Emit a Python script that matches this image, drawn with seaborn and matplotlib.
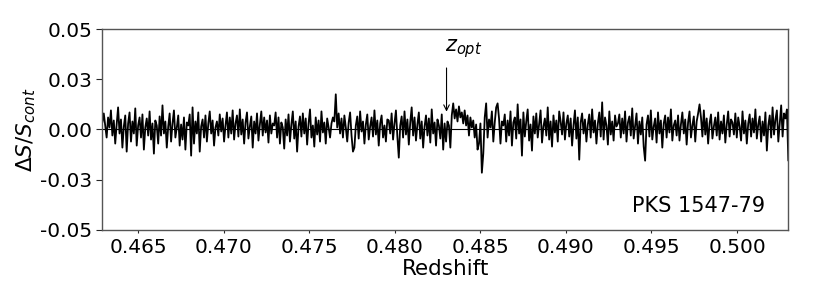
import numpy as np
import matplotlib
matplotlib.use("Agg")
import matplotlib.pyplot as plt
import seaborn as sns

# spectrum, in units of 1e-4 (Delta S / S_cont)
seg1 = [35, 80, 20, -40, 60, 10, 95, -30, 45, -70, 25, 110, -20, 50, -90, 15, 70, -110, 30, 85,
        -60, 40, -20, 105, -80, 20, 60, -40, 75, -100, 10, 55, -30, 90, -50, 30, -120, 45, 20, -70]
seg2 = [65, -30, 120, -20, 40, -90, 15, 80, -60, 30, 95, -40, 10, 70, -80, 25, -50, 60, -100, 35,
        20, 75, -130, 110, -70, 40, -20, 85, -110, 15, 50, -40, 70, -60, 30, 90, -20, 45, -80, 10]
seg3 = [40, -30, 75, -10, 55, -60, 20, 85, -40, 60, -20, 95, -50, 30, 70, -35, 100, -25, 50, -70,
        35, 85, -45, 15, 65, -90, 40, -20, 80, -55, 25, 90, -30, 60, -15, 45, -65, 70, -20, 30]
seg4 = [20, 85, -40, 60, -70, 35, 10, -95, 50, -30, 75, -60, 25, 90, -45, 40, -110, 15, 65, -35,
        80, -20, 55, -75, 30, 100, -40, 20, -85, 60, -25, 45, -60, 90, -15, 35, -70, 55, 10, -40]
seg5 = [30, 60, 40, 175, 10, 80, -20, 55, -40, 70, 10, -60, 35, 85, -30, -110, -90, 20, 65, -45,
        90, -10, 40, -70, 25, 75, -50, 15, 60, -35, 95, -25, 45, -80, 30, 70, -40, 20, -60, 50]
seg6 = [45, -20, 80, -50, 30, 95, -35, -140, 20, 65, -40, 90, -25, 50, -75, 35, 110, -30, 60, -55,
        25, 85, -45, 40, -90, 15, 70, -30, 55, -65, 100, -20, 35, -80, 50, 20, -45, 75, -100, 30]
seg7 = [-60, 40, 20, -90, 70, 130, 55, 100, 40, 115, 60, 85, 30, 95, 20, 70, -30, 60, 10, 45,
        -40, 25, -100, -70, 30, -215, -120, 60, 130, -40, 50, 10, 90, -60, 35, 110, 130, 55, -70, 40]
seg8 = [20, 75, -60, 45, -30, 90, -80, 35, 60, -45, 125, -20, 50, -130, 85, -35, 40, 100, -55, 25,
        -105, 65, -20, 80, -40, 30, 95, -65, 15, 55, -30, 110, -50, 40, -85, 70, -15, 45, -60, 90]
seg9 = [40, -25, 85, -50, 30, 70, -35, 55, -80, 20, 95, -45, 60, -150, 35, 80, -20, 50, -60, 25,
        75, -40, 100, -15, 45, -70, 30, 85, -35, 135, -50, 60, 20, -75, 90, -25, 40, -55, 70, 15]
seg10 = [30, 75, -40, 55, -20, 90, -60, 35, 65, -30, 105, -45, 20, 80, -70, 40, -25, 60, -85, -155,
         25, 70, -35, 95, -50, 15, 55, -65, 85, -20, 45, -90, 30, 70, -40, 60, -15, 100, -55, 20]
seg11 = [45, -30, 70, -55, 25, 85, -20, 50, -75, 35, 90, -40, 20, 65, -60, 40, 80, 125, 60, -35,
         95, -25, 55, -70, 30, 75, -45, 15, 60, -30, 85, -50, 40, -20, 70, -65, 25, 90, -35, 50]
seg12 = [35, -25, 80, -40, 60, 15, -55, 90, -20, 45, -70, 30, 75, -35, 55, -15, 100, -45, 25, 65,
         -60, 40, -30, 85, -105, 20, 70, -40, 110, -25, 50, 95, -60, 30, 120, -35, 80, 55, 100, -155]

z_first, z_last = 0.4629, 0.5030
z_opt = 0.48302
source_name = "PKS 1547-79"

dS = np.array(seg1 + seg2 + seg3 + seg4 + seg5 + seg6 + seg7 + seg8 + seg9 + seg10 + seg11 + seg12) * 1e-4
z = np.linspace(z_first, z_last, len(dS))

sns.set_style("ticks")
plt.rcParams['font.family'] = ['DejaVu Sans']
plt.rcParams['text.color'] = 'black'
plt.rcParams['axes.labelcolor'] = 'black'

fig = plt.figure(figsize=(8.3, 2.88), dpi=100)
ax = fig.add_axes([0.1233, 0.2014, 0.8265, 0.6979])

sns.lineplot(x=z, y=dS, ax=ax, color='black', lw=1.3, estimator=None, sort=False)
ax.axhline(0, color='black', lw=0.8)

ax.annotate('', xy=(z_opt, 0.0075), xytext=(z_opt, 0.032),
            arrowprops=dict(arrowstyle='->', color='black', lw=0.8))
ax.text(z_opt - 0.0001, 0.0345, r'$z_{opt}$', fontsize=15, ha='left', va='bottom')
ax.text(0.966, 0.12, source_name, transform=ax.transAxes, fontsize=15, ha='right', va='center')

ax.set_xlim(z_first, z_last)
ax.set_ylim(-0.05, 0.05)
ax.set_xticks([0.465, 0.470, 0.475, 0.480, 0.485, 0.490, 0.495, 0.500])
ax.set_xticklabels(['%.3f' % t for t in ax.get_xticks()])
ax.set_yticks([-0.05, -0.025, 0.0, 0.025, 0.05])
ax.set_yticklabels(['-0.05', '-0.03', '0.00', '0.03', '0.05'])
ax.tick_params(axis='x', length=2, labelsize=14.5, pad=4, labelcolor='black')
ax.tick_params(axis='y', length=4, labelsize=14.5, pad=3, labelcolor='black')
for s in ax.spines.values():
    s.set_visible(True)
    s.set_color('#555555')
    s.set_linewidth(1.0)

ax.set_xlabel('Redshift', fontsize=15.5, labelpad=1)
ax.set_ylabel(r'$\Delta S/S_{cont}$', fontsize=15.5, labelpad=2)

fig.savefig('out.png', dpi=100)
